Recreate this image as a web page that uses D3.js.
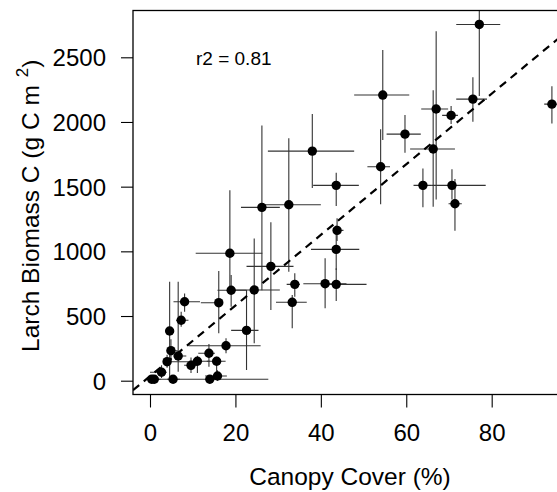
<!DOCTYPE html>
<html>
<head>
<meta charset="utf-8">
<script src="https://cdn.jsdelivr.net/npm/d3@7"></script>
<style>
  body { margin: 0; background: #fff; }
  svg text { font-family: "Liberation Sans", Arial, Helvetica, sans-serif; fill: #000; }
</style>
</head>
<body>
<div class="container"></div>
<script>
// canopy cover (%) and larch biomass C (g C m-2), with error bar ends
const cover    = [0.4, 1.0, 2.7, 4.0, 4.6, 4.9, 5.4, 6.6, 7.3, 8.1, 9.6, 11.1, 13.8, 14.0, 15.6, 15.8, 16.1, 17.8, 18.7, 19.0, 22.6, 24.4, 26.2, 28.3, 32.5, 33.3, 33.9, 38.0, 41.0, 43.6, 43.6, 43.8, 43.6, 54.0, 54.5, 59.7, 63.9, 66.3, 67.0, 70.5, 70.7, 71.4, 75.6, 77.1, 94.1]
const coverLo  = [0.0, 0.0, 0.0, 3.1, 3.9, 3.9, 4.0, 5.5, 6.1, 5.5, 8.0, 9.4, 11.3, 0.0, 13.3, 12.9, 11.9, 9.0, 10.7, 15.8, 19.0, 19.9, 21.3, 22.6, 26.2, 29.5, 32.0, 27.6, 35.9, 41.0, 37.7, 42.9, 38.2, 50.9, 47.8, 55.4, 61.7, 60.9, 63.5, 68.4, 66.0, 69.9, 71.7, 71.7, 92.3]
const coverHi  = [1.5, 2.5, 3.9, 9.0, 5.5, 6.5, 7.0, 8.5, 9.0, 11.7, 11.0, 14.0, 15.2, 27.7, 17.7, 18.0, 16.9, 25.9, 26.3, 22.6, 25.4, 30.4, 30.4, 33.6, 40.0, 36.7, 35.1, 47.8, 46.0, 50.7, 49.0, 45.3, 48.9, 56.2, 60.7, 63.4, 66.0, 71.4, 69.8, 72.1, 78.6, 73.0, 78.9, 82.0, 100]
const biomass  = [11, 11, 65, 147, 384, 232, 11, 191, 467, 610, 119, 150, 212, 11, 150, 36, 603, 270, 985, 699, 389, 701, 1340, 884, 1360, 606, 745, 1775, 750, 745, 1015, 1162, 1510, 1654, 2208, 1906, 1510, 1791, 2100, 2051, 1510, 1368, 2177, 2754, 2138]
const biomassLo = [0, -20, 20, 100, 5, 150, -10, 70, 417, 533, 60, 59, 108, -20, 57, 0, 366, 212, 700, 572, 83, 289, 700, 546, 842, 405, 649, 1489, 560, 616, 855, 1080, 1350, 1364, 1860, 1762, 1341, 1345, 1400, 1984, 1400, 1159, 2002, 2200, 1989]
const biomassHi = [30, 40, 120, 200, 765, 320, 40, 765, 533, 675, 180, 193, 283, 40, 185, 80, 848, 328, 1472, 817, 701, 1100, 1973, 1224, 1875, 662, 830, 2061, 946, 869, 1200, 1255, 1607, 1943, 2556, 2053, 1641, 2246, 2702, 2123, 1634, 1560, 2345, 3300, 2277]

const xTicks = [0, 20, 40, 60, 80]
const yTicks = [0, 500, 1000, 1500, 2000, 2500]

// fitted line
const fitIntercept = 35
const fitSlope = 27.3
const r2Label = 'r2 = 0.81'

const width = 557
const height = 492

const svg = d3.select('.container')
    .append('svg')
    .attr('width', width)
    .attr('height', height)

const x = d3.scaleLinear().domain([-3.98, 98.5]).range([133, 570.7])
const y = d3.scaleLinear().domain([-106.7, 2861.8]).range([394.5, 10.5])

const pts = cover.map((c, i) => ({
    x: c, y: biomass[i],
    x0: coverLo[i], x1: coverHi[i],
    y0: biomassLo[i], y1: biomassHi[i]
}))

svg.append('clipPath').attr('id', 'plotclip')
    .append('rect')
    .attr('x', x.range()[0]).attr('y', y.range()[1])
    .attr('width', x.range()[1] - x.range()[0])
    .attr('height', y.range()[0] - y.range()[1])

const plot = svg.append('g').attr('clip-path', 'url(#plotclip)')

// error bars
plot.selectAll('.xerr')
    .data(pts)
    .enter()
    .append('line')
    .attr('x1', d => x(d.x0)).attr('x2', d => x(d.x1))
    .attr('y1', d => y(d.y)).attr('y2', d => y(d.y))
    .attr('stroke', '#333')
    .attr('stroke-width', 1.1)

plot.selectAll('.yerr')
    .data(pts)
    .enter()
    .append('line')
    .attr('x1', d => x(d.x)).attr('x2', d => x(d.x))
    .attr('y1', d => y(d.y0)).attr('y2', d => y(d.y1))
    .attr('stroke', '#333')
    .attr('stroke-width', 1.1)

// regression line
plot.append('line')
    .attr('x1', x(x.domain()[0])).attr('y1', y(fitIntercept + fitSlope * x.domain()[0]))
    .attr('x2', x(x.domain()[1])).attr('y2', y(fitIntercept + fitSlope * x.domain()[1]))
    .attr('stroke', '#000')
    .attr('stroke-width', 2.2)
    .attr('stroke-dasharray', '8,6')

plot.selectAll('circle')
    .data(pts)
    .enter()
    .append('circle')
    .attr('cx', d => x(d.x))
    .attr('cy', d => y(d.y))
    .attr('r', 4.7)
    .attr('fill', '#000')

// box
svg.append('rect')
    .attr('x', x.range()[0]).attr('y', y.range()[1])
    .attr('width', x.range()[1] - x.range()[0])
    .attr('height', y.range()[0] - y.range()[1])
    .attr('fill', 'none')
    .attr('stroke', '#000')
    .attr('stroke-width', 1.3)

// axes
const xAxis = d3.axisBottom(x).tickValues(xTicks).tickSize(13).tickPadding(16).tickFormat(d3.format('d'))
const gx = svg.append('g')
    .attr('transform', `translate(0,${y.range()[0]})`)
    .call(xAxis)
gx.select('.domain').remove()
gx.selectAll('.tick line').attr('stroke', '#000').attr('stroke-width', 1.1)
gx.selectAll('.tick text').style('font-size', '24px')

const yAxis = d3.axisLeft(y).tickValues(yTicks).tickSize(12).tickPadding(15).tickFormat(d3.format('d'))
const gy = svg.append('g')
    .attr('transform', `translate(${x.range()[0]},0)`)
    .call(yAxis)
gy.select('.domain').remove()
gy.selectAll('.tick line').attr('stroke', '#000').attr('stroke-width', 1.1)
gy.selectAll('.tick text').style('font-size', '24px').attr('dy', '0.35em')

svg.append('text')
    .attr('x', 350)
    .attr('y', 485)
    .attr('text-anchor', 'middle')
    .style('font-size', '24.5px')
    .text('Canopy Cover (%)')

const yl = svg.append('text')
    .attr('transform', 'translate(39,352) rotate(-90)')
    .attr('text-anchor', 'start')
    .style('font-size', '24.5px')
yl.append('tspan').text('Larch Biomass C (g C m')
yl.append('tspan').attr('dx', 8).attr('dy', -11).style('font-size', '17px').text('2')
yl.append('tspan').attr('dy', 11).text(')')

svg.append('text')
    .attr('x', 196)
    .attr('y', 65)
    .style('font-size', '19px')
    .text(r2Label)
</script>
</body>
</html>
